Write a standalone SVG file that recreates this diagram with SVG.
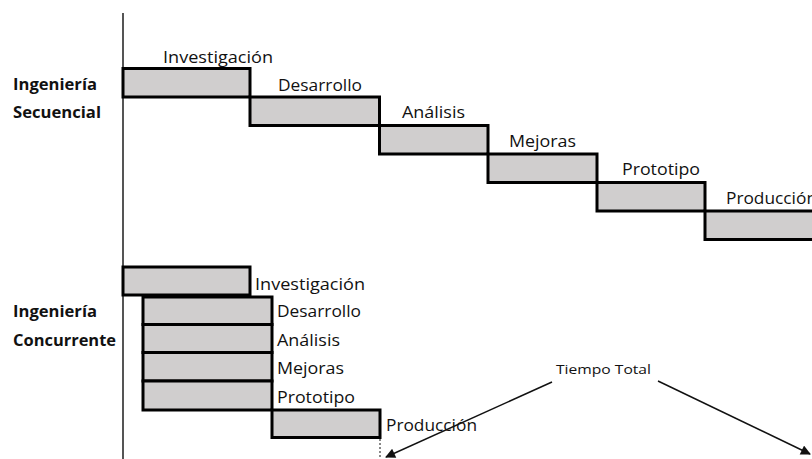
<svg xmlns="http://www.w3.org/2000/svg" width="812" height="459" viewBox="0 0 812 459">
  <defs>
    <style>
      .bar { fill: #d0cece; stroke: #000; stroke-width: 3; }
      .lbl { font-family: "Open Sans", "Liberation Sans", sans-serif; font-size: 16.5px; fill: #111; }
      .head { font-family: "Open Sans", "Liberation Sans", sans-serif; font-size: 15.5px; font-weight: bold; fill: #111; }
      .small { font-family: "Open Sans", "Liberation Sans", sans-serif; font-size: 13.5px; fill: #111; }
      .axis { stroke: #555; stroke-width: 2; fill: none; }
      .arrow { stroke: #111; stroke-width: 1.5; fill: none; marker-end: url(#tip); }
    </style>
    <marker id="tip" viewBox="0 0 10 10" refX="9" refY="5" markerWidth="11" markerHeight="10" markerUnits="userSpaceOnUse" orient="auto">
      <path d="M0,0 L10,5 L0,10 z" fill="#111"/>
    </marker>
  </defs>
  <rect width="812" height="459" fill="#fff"/>

  <!-- time axis -->
  <line class="axis" x1="123" y1="13" x2="123" y2="459"/>

  <!-- row headings -->
  <g id="heading-secuencial">
    <text class="head" x="13" y="90" textLength="84" lengthAdjust="spacingAndGlyphs">Ingeniería</text>
    <text class="head" x="13" y="118" textLength="88" lengthAdjust="spacingAndGlyphs">Secuencial</text>
  </g>
  <g id="heading-concurrente">
    <text class="head" x="13" y="317" textLength="84" lengthAdjust="spacingAndGlyphs">Ingeniería</text>
    <text class="head" x="13" y="346" textLength="103" lengthAdjust="spacingAndGlyphs">Concurrente</text>
  </g>

  <!-- sequential phases: each starts when the previous one ends -->
  <g id="seq-investigacion">
    <rect class="bar" x="123" y="68.5" width="127" height="28.5"/>
    <text class="lbl" x="163" y="63" textLength="110" lengthAdjust="spacingAndGlyphs">Investigación</text>
  </g>
  <g id="seq-desarrollo">
    <rect class="bar" x="250" y="97" width="129.5" height="28.5"/>
    <text class="lbl" x="278" y="91" textLength="84" lengthAdjust="spacingAndGlyphs">Desarrollo</text>
  </g>
  <g id="seq-analisis">
    <rect class="bar" x="379.5" y="125.5" width="108.5" height="28.5"/>
    <text class="lbl" x="402" y="118" textLength="63" lengthAdjust="spacingAndGlyphs">Análisis</text>
  </g>
  <g id="seq-mejoras">
    <rect class="bar" x="488" y="154" width="109" height="28.5"/>
    <text class="lbl" x="509" y="147" textLength="67" lengthAdjust="spacingAndGlyphs">Mejoras</text>
  </g>
  <g id="seq-prototipo">
    <rect class="bar" x="597" y="182.5" width="108" height="28.5"/>
    <text class="lbl" x="622" y="175" textLength="78" lengthAdjust="spacingAndGlyphs">Prototipo</text>
  </g>
  <g id="seq-produccion">
    <rect class="bar" x="705" y="211" width="120" height="28.5"/>
    <text class="lbl" x="726" y="204" textLength="91" lengthAdjust="spacingAndGlyphs">Producción</text>
  </g>

  <!-- concurrent phases: overlapping in time -->
  <g id="con-investigacion">
    <rect class="bar" x="123" y="267" width="127" height="28"/>
    <text class="lbl" x="255" y="290" textLength="110" lengthAdjust="spacingAndGlyphs">Investigación</text>
  </g>
  <g id="con-desarrollo">
    <rect class="bar" x="143" y="297" width="129" height="27.5"/>
    <text class="lbl" x="277" y="317" textLength="84" lengthAdjust="spacingAndGlyphs">Desarrollo</text>
  </g>
  <g id="con-analisis">
    <rect class="bar" x="143" y="324.5" width="129" height="28"/>
    <text class="lbl" x="277" y="346" textLength="63" lengthAdjust="spacingAndGlyphs">Análisis</text>
  </g>
  <g id="con-mejoras">
    <rect class="bar" x="143" y="352.5" width="129" height="28.5"/>
    <text class="lbl" x="277" y="374" textLength="67" lengthAdjust="spacingAndGlyphs">Mejoras</text>
  </g>
  <g id="con-prototipo">
    <rect class="bar" x="143" y="381" width="129" height="29"/>
    <text class="lbl" x="277" y="403" textLength="78" lengthAdjust="spacingAndGlyphs">Prototipo</text>
  </g>
  <g id="con-produccion">
    <rect class="bar" x="272" y="410" width="108" height="27.5"/>
    <text class="lbl" x="386" y="431" textLength="91" lengthAdjust="spacingAndGlyphs">Producción</text>
  </g>

  <!-- end-of-project marker for the concurrent case -->
  <line x1="380" y1="439" x2="380" y2="459" stroke="#111" stroke-width="1" stroke-dasharray="2,2"/>

  <g id="tiempo-total">
    <text class="small" x="556" y="374" textLength="95" lengthAdjust="spacingAndGlyphs">Tiempo Total</text>
  </g>

  <!-- connectors -->
  <g id="connectors">
    <line class="arrow" x1="552" y1="382" x2="386" y2="457"/>
    <line class="arrow" x1="658" y1="381" x2="810" y2="454"/>
  </g>
</svg>
